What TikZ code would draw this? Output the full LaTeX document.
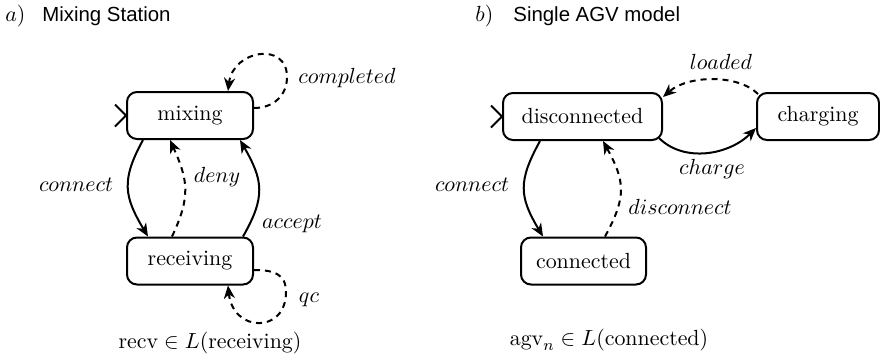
\documentclass[tikz,border=0pt]{standalone}
\usepackage{fontspec}
\newfontfamily\titlefont{Liberation Sans}
\usetikzlibrary{arrows.meta}
\begin{document}
\begin{tikzpicture}[x=0.5pt,y=-0.5pt, font=\fontsize{10.95}{13}\selectfont,
  state/.style={draw, rounded corners=5pt, line width=1pt, minimum height=23.5pt, inner sep=0pt},
  tr/.style={line width=1pt, -{Stealth[length=6.5pt,width=5.5pt,inset=2pt]}},
  dtr/.style={tr, dash pattern=on 3pt off 2.5pt},
  lbl/.style={inner sep=0pt},
  ttl/.style={anchor=base west, inner sep=0pt},
  sans/.style={font={\titlefont\fontsize{10.2}{12}\selectfont}},
  init/.style={line width=1pt}]
\path[use as bounding box] (0,0) rectangle (880,359);

% titles
\node[ttl] (ta) at (5,21) {$a)$};
\node[ttl, sans] (tat) at (42,21) {Mixing Station};
\node[ttl] (tb) at (475,21) {$b)$};
\node[ttl, sans] (tbt) at (513,21) {Single AGV model};

% states
\node[state, minimum width=63pt] (mix) at (190,115.5) {mixing};
\node[state, minimum width=63pt] (rec) at (190,261) {receiving};
\node[state, minimum width=79.5pt] (dis) at (582.5,116.5) {disconnected};
\node[state, minimum width=61pt] (chg) at (818,116.5) {charging};
\node[state, minimum width=62.5pt] (con) at (583.5,261) {connected};

% initial marks
\draw[init] ([xshift=-5.5pt,yshift=5.5pt]mix.west) -- (mix.west) -- ([xshift=-5.5pt,yshift=-5.5pt]mix.west);
\draw[init] ([xshift=-5.5pt,yshift=5.5pt]dis.west) -- (dis.west) -- ([xshift=-5.5pt,yshift=-5.5pt]dis.west);

% panel a transitions
\draw[tr] ([xshift=-23.5pt]mix.south) .. controls +(-22,40) and +(-24,-40) .. ([xshift=-21pt]rec.north);
\draw[dtr] ([xshift=-9pt]rec.north) .. controls +(19,-40) and +(18,40) .. ([xshift=-10pt]mix.south);
\draw[tr] ([xshift=26.5pt]rec.north) .. controls +(23,-40) and +(23,40) .. ([xshift=25pt]mix.south);
\coordinate (cp) at (287,77);
\draw[dtr] ([yshift=3.75pt]mix.east) .. controls +(20,0) and +(0,18) .. (cp)
   .. controls +(0,-36) and +(5,-41) .. ([xshift=19pt]mix.north);
\coordinate (qp) at (286,292);
\draw[dtr] ([yshift=-4.5pt]rec.east) .. controls +(20,0) and +(0,-18) .. (qp)
   .. controls +(0,42) and +(5,47) .. ([xshift=19pt]rec.south);

% panel b transitions
\draw[tr] ([xshift=-21.25pt]dis.south) .. controls +(-22,40) and +(-24,-40) .. ([xshift=-20.25pt]con.north);
\draw[dtr] ([xshift=10.75pt]con.north) .. controls +(22,-40) and +(22,40) .. ([xshift=10.25pt]dis.south);
\draw[tr] ([xshift=-2pt,yshift=1.5pt]dis.south east) .. controls +(25,25) and +(-27,27) .. ([yshift=-5.75pt]chg.west);
\draw[dtr] ([xshift=1pt,yshift=-1pt]chg.north west) .. controls +(-20,-20) and +(25,-22) .. ([yshift=-2.5pt]dis.north east);

% labels
\node[lbl] (lcomp) at (347,78) {$completed$};
\node[lbl] (lqc) at (309,300) {$qc$};
\node[lbl] (lcon) at (76,185) {$connect$};
\node[lbl] (ldeny) at (217,177) {$deny$};
\node[lbl] (lacc) at (292,224) {$accept$};
\node[lbl] (lrecv) at (210,343) {$\mathrm{recv}\in L(\mathrm{receiving})$};

\node[lbl] (lcon2) at (472,185) {$connect$};
\node[lbl] (ldis) at (680,207) {$disconnect$};
\node[lbl] (lchg) at (712,169) {$charge$};
\node[lbl] (lload) at (721,62) {$loaded$};
\node[lbl] (lagv) at (609,340) {$\mathrm{agv}_n\in L(\mathrm{connected})$};
\end{tikzpicture}
\end{document}
